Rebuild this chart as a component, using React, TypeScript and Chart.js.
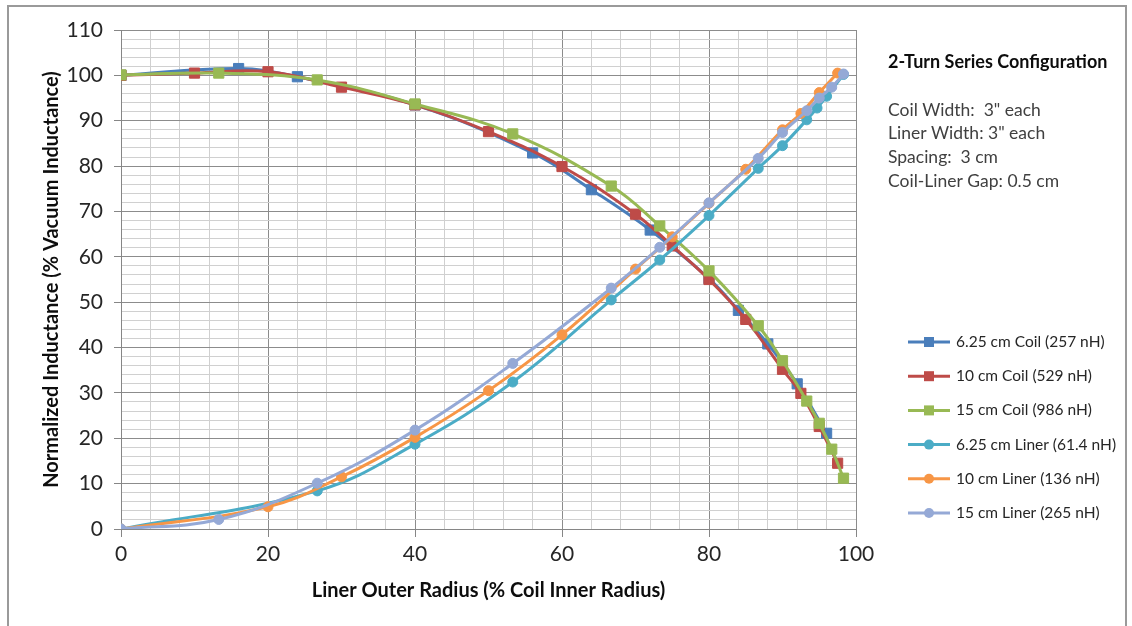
import React, { useEffect, useRef } from 'react';
import { Chart, registerables } from 'chart.js';

Chart.register(...registerables);

// ---- Data ----
const seriesLabels = [
  '6.25 cm Coil (257 nH)',
  '10 cm Coil (529 nH)',
  '15 cm Coil (986 nH)',
  '6.25 cm Liner (61.4 nH)',
  '10 cm Liner (136 nH)',
  '15 cm Liner (265 nH)',
];

const coil625X = [0, 16, 24, 40, 56, 64, 72, 80, 84, 88, 92, 96];
const coil625Y = [100, 101.5, 99.7, 93.5, 82.9, 74.8, 65.9, 55.2, 48.2, 40.8, 32, 21.1];

const coil10X = [0, 10, 20, 30, 40, 50, 60, 70, 75, 80, 85, 90, 92.5, 95, 97.5];
const coil10Y = [100, 100.5, 100.8, 97.4, 93.5, 87.6, 79.9, 69.4, 62.4, 55, 46.2, 35.2, 29.9, 22.6, 14.5];

const coil15X = [0, 13.3, 26.7, 40, 53.3, 66.7, 73.3, 80, 86.7, 90, 93.3, 95, 96.7, 98.3];
const coil15Y = [100.1, 100.5, 99, 93.7, 87.1, 75.6, 66.8, 56.9, 44.8, 37.1, 28.2, 23.3, 17.6, 11.2];

const liner625X = [0, 26.7, 40, 53.3, 66.7, 73.3, 80, 86.7, 90, 93.3, 94.7, 96, 98.3];
const liner625Y = [0, 8.4, 18.7, 32.4, 50.5, 59.3, 69.1, 79.5, 84.5, 90.2, 92.8, 95.4, 100.2];

const liner10X = [0, 20, 30, 40, 50, 60, 70, 75, 80, 85, 90, 92.5, 95, 97.5];
const liner10Y = [0, 4.9, 11.5, 20.2, 30.5, 42.8, 57.3, 64.4, 71.8, 79.3, 88, 91.6, 96.2, 100.5];

const liner15X = [0, 13.3, 26.7, 40, 53.3, 66.7, 73.3, 80, 86.7, 90, 93.3, 95, 96.7, 98.3];
const liner15Y = [0, 2.1, 10.1, 21.8, 36.5, 53.1, 62.1, 71.9, 81.7, 87.4, 92.2, 95, 97.4, 100.3];

const seriesX = [coil625X, coil10X, coil15X, liner625X, liner10X, liner15X];
const seriesY = [coil625Y, coil10Y, coil15Y, liner625Y, liner10Y, liner15Y];
const seriesColors = ['#4A7EBB', '#BE4B48', '#98B954', '#4BACC6', '#F79646', '#95A9D6'];
const seriesMarkers = ['rect', 'rect', 'rect', 'circle', 'circle', 'circle'];

const infoTitle = '2-Turn Series Configuration';
const infoLines = ['Coil Width:  3" each', 'Liner Width: 3" each', 'Spacing:  3 cm', 'Coil-Liner Gap: 0.5 cm'];

const xTitle = 'Liner Outer Radius (% Coil Inner Radius)';
const yTitle = 'Normalized Inductance (% Vacuum Inductance)';

const FONT = 'Lato, "Open Sans", sans-serif';
const MAJOR = '#8c8c8c';
const MINOR = '#d0d0d0';
const AXIS = '#868686';

const sidePlugin = {
  id: 'sideInfo',
  afterDraw(chart: any) {
    const ctx = chart.ctx;
    ctx.save();
    // info block
    ctx.textBaseline = 'middle';
    ctx.textAlign = 'left';
    ctx.fillStyle = '#0d0d0d';
    ctx.font = `bold 18px ${FONT}`;
    ctx.fillText(infoTitle, 888, 62);
    ctx.fillStyle = '#404040';
    ctx.font = `17.5px ${FONT}`;
    infoLines.forEach((t, i) => ctx.fillText(t, 888, 110 + i * 23.7));

    // legend
    chart.data.datasets.forEach((ds: any, i: number) => {
      const y = 342 + i * 34.2;
      ctx.strokeStyle = ds.borderColor;
      ctx.lineWidth = 3;
      ctx.beginPath();
      ctx.moveTo(908, y);
      ctx.lineTo(950, y);
      ctx.stroke();
      ctx.fillStyle = ds.backgroundColor;
      if (ds.pointStyle === 'rect') {
        ctx.fillRect(929 - 5, y - 5, 10, 10);
      } else {
        ctx.beginPath();
        ctx.arc(929, y, 5, 0, Math.PI * 2);
        ctx.fill();
      }
      ctx.fillStyle = '#262626';
      ctx.font = `15.5px ${FONT}`;
      ctx.fillText(ds.label, 956, y);
    });
    ctx.restore();
  },
};

export default function App() {
  const canvasRef = useRef<HTMLCanvasElement | null>(null);

  useEffect(() => {
    const canvas = canvasRef.current;
    if (!canvas) return;
    const datasets = seriesLabels.map((label, i) => ({
      label,
      data: seriesX[i].map((x, j) => ({ x, y: seriesY[i][j] })),
      showLine: true,
      borderColor: seriesColors[i],
      backgroundColor: seriesColors[i],
      pointBackgroundColor: seriesColors[i],
      pointBorderColor: seriesColors[i],
      pointStyle: seriesMarkers[i],
      pointRadius: seriesMarkers[i] === 'rect' ? 7.2 : 5,
      pointBorderWidth: 1,
      borderWidth: 3,
      tension: 0.4,
      order: 10 - i,
    }));

    const chart = new Chart(canvas, {
      type: 'scatter',
      data: { datasets },
      plugins: [sidePlugin],
      options: {
        responsive: false,
        animation: false,
        maintainAspectRatio: false,
        layout: { padding: { left: 0, right: 276, top: 30, bottom: 0 } },
        plugins: { legend: { display: false }, tooltip: { enabled: false } },
        scales: {
          x: {
            type: 'linear',
            min: 0,
            max: 100,
            ticks: {
              stepSize: 4,
              autoSkip: false,
              maxRotation: 0,
              callback: (v: any) => (Number(v) % 20 === 0 ? String(v) : ''),
              font: { family: FONT, size: 21 },
              color: '#262626',
              padding: 5,
            },
            grid: {
              color: (c: any) => (c.tick && c.tick.value % 20 === 0 ? MAJOR : MINOR),
              tickColor: (c: any) => (c.tick && c.tick.value % 20 === 0 ? AXIS : 'rgba(0,0,0,0)'),
              tickLength: 8,
              lineWidth: 1,
            },
            border: { color: AXIS, width: 1 },
            title: {
              display: true,
              text: xTitle,
              font: { family: FONT, size: 20, weight: 'bold' },
              color: '#0d0d0d',
              padding: { top: 0, bottom: 23 },
            },
            afterFit: (s: any) => {
              s.height = 97;
            },
          },
          y: {
            type: 'linear',
            min: 0,
            max: 110,
            ticks: {
              stepSize: 2,
              autoSkip: false,
              callback: (v: any) => (Number(v) % 10 === 0 ? String(v) : ''),
              font: { family: FONT, size: 21 },
              color: '#262626',
              padding: 11,
            },
            grid: {
              color: (c: any) => (c.tick && c.tick.value % 10 === 0 ? MAJOR : MINOR),
              tickColor: (c: any) => (c.tick && c.tick.value % 10 === 0 ? AXIS : 'rgba(0,0,0,0)'),
              tickLength: 7,
              lineWidth: 1,
            },
            border: { color: AXIS, width: 1 },
            title: {
              display: true,
              text: yTitle,
              font: { family: FONT, size: 20, weight: 'bold' },
              color: '#0d0d0d',
              padding: { top: 40, bottom: 0 },
            },
            afterFit: (s: any) => {
              s.width = 121;
            },
          },
        },
      },
    } as any);

    return () => chart.destroy();
  }, []);

  return (
    <div style={{ position: 'fixed', left: 0, top: 0, width: 1132, height: 626, background: '#fff', overflow: 'hidden' }}>
      <canvas ref={canvasRef} width={1132} height={626} style={{ position: 'absolute', left: 0, top: 0, width: 1132, height: 626 }} />
      <div
        style={{
          position: 'absolute',
          left: 7,
          top: 5,
          width: 1116,
          height: 700,
          border: '2px solid #9a9a9a',
          pointerEvents: 'none',
        }}
      />
    </div>
  );
}
